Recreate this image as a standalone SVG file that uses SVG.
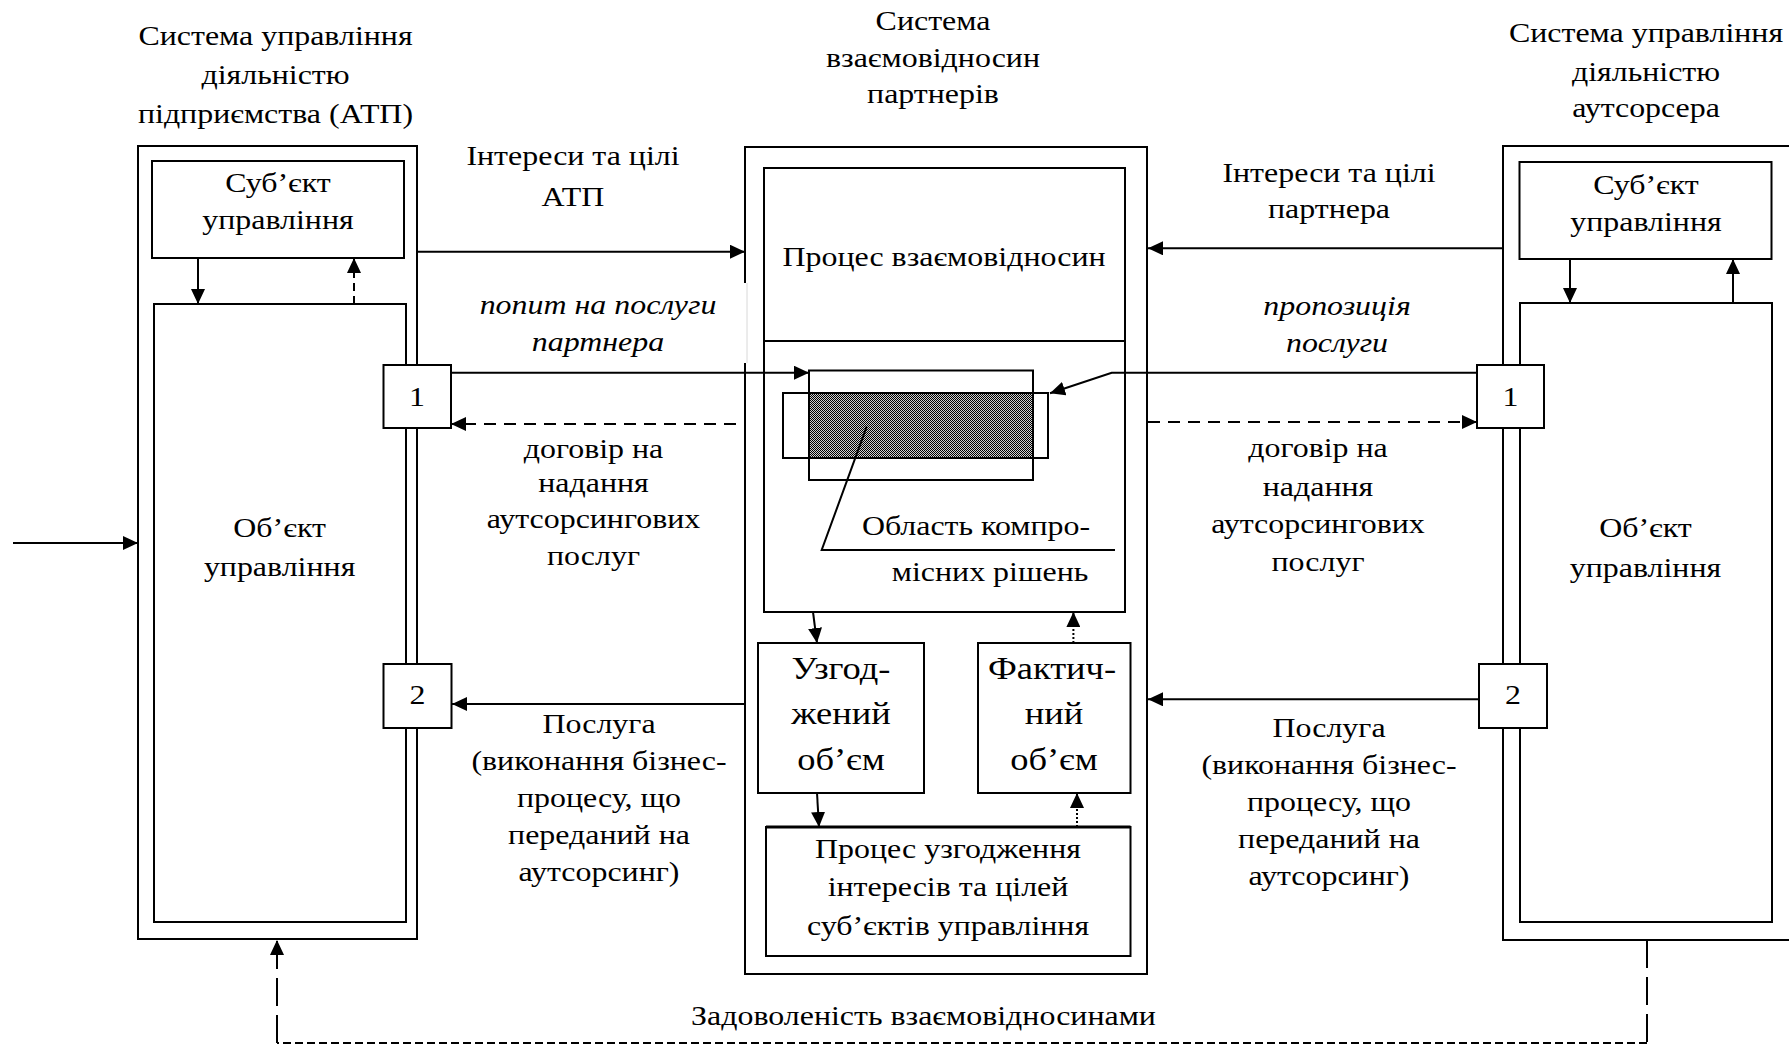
<svg xmlns="http://www.w3.org/2000/svg" width="1789" height="1046" viewBox="0 0 1789 1046">
<style>
.t{font-family:"Liberation Serif","Times New Roman",serif;font-size:28px;text-anchor:middle;fill:#000}
.i{font-style:italic}
.big{font-size:32px}
.b{fill:none;stroke:#000;stroke-width:2}
.w{fill:#fff;stroke:#000;stroke-width:2}
.c{fill:none;stroke:#000;stroke-width:2}
.d{stroke-dasharray:12 8}
.dl{stroke-dasharray:28 9}
.ds{stroke-dasharray:8 4}
.dt{stroke-dasharray:2 2}
</style>
<defs>
<marker id="a" viewBox="0 0 15 14" refX="15" refY="7" markerWidth="15" markerHeight="14" markerUnits="userSpaceOnUse" orient="auto"><path d="M0,0 L15,7 L0,14 z" fill="#000"/></marker>
<pattern id="chk" width="2" height="2" patternUnits="userSpaceOnUse"><rect width="2" height="2" fill="#cfcfcf"/><rect width="1" height="1" fill="#000"/><rect x="1" y="1" width="1" height="1" fill="#000"/></pattern>
</defs>
<rect width="1789" height="1046" fill="#fff"/>

<g id="left-system">
<rect class="b" x="138" y="146" width="279" height="793"/>
<text class="t" transform="matrix(1.14 0 0 1 275.5 0)"><tspan x="0" y="45">Система управління</tspan><tspan x="0" y="84">діяльністю</tspan><tspan x="0" y="123">підприємства (АТП)</tspan></text>
</g>
<g id="left-subject">
<rect class="w" x="152" y="161" width="252" height="97"/>
<text class="t" transform="matrix(1.14 0 0 1 278 0)"><tspan x="0" y="192">Суб’єкт</tspan><tspan x="0" y="229">управління</tspan></text>
</g>
<g id="left-object">
<rect class="b" x="154" y="304" width="252" height="618"/>
<text class="t" transform="matrix(1.14 0 0 1 279.6 0)"><tspan x="0" y="537">Об’єкт</tspan><tspan x="0" y="576">управління</tspan></text>
</g>
<g id="left-1">
<rect class="w" x="383.5" y="365" width="67.5" height="63"/>
<text class="t" transform="matrix(1.14 0 0 1 417 0)" y="406">1</text>
</g>
<g id="left-2">
<rect class="w" x="383.5" y="664" width="68" height="64"/>
<text class="t" transform="matrix(1.14 0 0 1 417.5 0)" y="704">2</text>
</g>

<g id="center-system">
<path class="b" d="M745,283 V147 H1147 V974 H745 V363"/>
<line x1="747" y1="283" x2="747" y2="363" stroke="#d8d8d8" stroke-width="1"/>
<text class="t" transform="matrix(1.14 0 0 1 933 0)"><tspan x="0" y="30">Система</tspan><tspan x="0" y="67">взаємовідносин</tspan><tspan x="0" y="103">партнерів</tspan></text>
</g>
<g id="relations-process">
<rect class="b" x="764" y="168" width="361" height="444"/>
<line class="b" x1="764" y1="341" x2="1125" y2="341"/>
<text class="t" transform="matrix(1.14 0 0 1 944 0)" y="266">Процес взаємовідносин</text>
</g>
<g id="compromise">
<rect x="809" y="393" width="224" height="65" fill="url(#chk)"/>
<rect class="b" x="809" y="370.5" width="224" height="109.5" stroke-width="1.8"/>
<rect class="b" x="783" y="393" width="265" height="65" stroke-width="1.8"/>
<path class="c" d="M866.7,426.7 L821.7,550 H1115" stroke-width="1.6"/>
<text class="t" transform="matrix(1.14 0 0 1 976 0)" y="535">Область компро-</text>
<text class="t" transform="matrix(1.14 0 0 1 990 0)" y="581">місних рішень</text>
</g>
<g id="agreed-volume">
<rect class="b" x="758" y="643" width="166" height="150"/>
<text class="t big" transform="matrix(1.14 0 0 1 841 0)"><tspan x="0" y="679">Узгод-</tspan><tspan x="0" y="724">жений</tspan><tspan x="0" y="770">об’єм</tspan></text>
</g>
<g id="actual-volume">
<rect class="b" x="978" y="643" width="152.5" height="150"/>
<text class="t big" transform="matrix(1.14 0 0 1 1052 0)" y="679">Фактич-</text>
<text class="t big" transform="matrix(1.14 0 0 1 1054 0)"><tspan x="0" y="724">ний</tspan><tspan x="0" y="770">об’єм</tspan></text>
</g>
<g id="coordination-process">
<rect class="b" x="766" y="827" width="364.5" height="129"/>
<line x1="766" y1="827" x2="1130.5" y2="827" stroke="#000" stroke-width="3"/>
<text class="t" transform="matrix(1.14 0 0 1 948 0)"><tspan x="0" y="858">Процес узгодження</tspan><tspan x="0" y="896">інтересів та цілей</tspan><tspan x="0" y="935">суб’єктів управління</tspan></text>
</g>

<g id="right-system">
<path class="b" d="M1800,146 H1503 V940 H1800"/>
<text class="t" transform="matrix(1.14 0 0 1 1646 0)"><tspan x="0" y="42">Система управління</tspan><tspan x="0" y="81">діяльністю</tspan><tspan x="0" y="117">аутсорсера</tspan></text>
</g>
<g id="right-subject">
<rect class="w" x="1519.5" y="162" width="252" height="97"/>
<text class="t" transform="matrix(1.14 0 0 1 1646 0)"><tspan x="0" y="194">Суб’єкт</tspan><tspan x="0" y="231">управління</tspan></text>
</g>
<g id="right-object">
<rect class="b" x="1520" y="303" width="252" height="619"/>
<text class="t" transform="matrix(1.14 0 0 1 1645.5 0)"><tspan x="0" y="537">Об’єкт</tspan><tspan x="0" y="577">управління</tspan></text>
</g>
<g id="right-1">
<rect class="w" x="1477" y="365" width="67" height="63"/>
<text class="t" transform="matrix(1.14 0 0 1 1510.5 0)" y="406">1</text>
</g>
<g id="right-2">
<rect class="w" x="1479" y="664" width="68" height="64"/>
<text class="t" transform="matrix(1.14 0 0 1 1513 0)" y="704">2</text>
</g>

<g id="connectors">
<line class="c" x1="198" y1="258" x2="198" y2="304" marker-end="url(#a)"/>
<line class="c" x1="354" y1="304" x2="354" y2="258" stroke-dasharray="8 5" marker-end="url(#a)"/>
<line class="c" x1="13" y1="543" x2="138" y2="543" marker-end="url(#a)"/>
<line class="c" x1="417" y1="251.7" x2="745" y2="251.7" marker-end="url(#a)"/>
<line class="c" x1="451" y1="372.7" x2="809" y2="372.7" marker-end="url(#a)"/>
<line class="c d" x1="736" y1="424" x2="451" y2="424" marker-end="url(#a)"/>
<line class="c" x1="745" y1="704" x2="452" y2="704" marker-end="url(#a)"/>
<line class="c" x1="1503" y1="248.3" x2="1148" y2="248.3" marker-end="url(#a)"/>
<path class="c" d="M1477,372.7 H1111.7 L1050,393.3" marker-end="url(#a)"/>
<line class="c d" x1="1148" y1="422" x2="1477" y2="422" marker-end="url(#a)"/>
<line class="c" x1="1479" y1="699.3" x2="1148" y2="699.3" marker-end="url(#a)"/>
<line class="c" x1="1570" y1="259" x2="1570" y2="303" marker-end="url(#a)"/>
<line class="c" x1="1733" y1="303" x2="1733" y2="259" marker-end="url(#a)"/>
<line class="c" x1="813" y1="612" x2="817" y2="643" marker-end="url(#a)"/>
<line class="c" x1="817" y1="793" x2="819" y2="827" marker-end="url(#a)"/>
<line class="c dt" x1="1073.4" y1="643" x2="1073.4" y2="612" marker-end="url(#a)"/>
<line class="c dt" x1="1077" y1="827" x2="1077" y2="793" marker-end="url(#a)"/>
<line class="c dl" x1="1647" y1="940" x2="1647" y2="1043"/>
<line class="c ds" x1="1647" y1="1043" x2="277" y2="1043"/>
<line class="c dl" x1="277" y1="1043" x2="277" y2="940" marker-end="url(#a)"/>
</g>

<g id="labels">
<text class="t" transform="matrix(1.14 0 0 1 573 0)"><tspan x="0" y="165">Інтереси та цілі</tspan><tspan x="0" y="206">АТП</tspan></text>
<text class="t i" transform="matrix(1.14 0 0 1 598 0)"><tspan x="0" y="314">попит на послуги</tspan><tspan x="0" y="351">партнера</tspan></text>
<text class="t" transform="matrix(1.14 0 0 1 593.5 0)"><tspan x="0" y="458">договір на</tspan><tspan x="0" y="492">надання</tspan><tspan x="0" y="528">аутсорсингових</tspan><tspan x="0" y="565">послуг</tspan></text>
<text class="t" transform="matrix(1.14 0 0 1 599 0)"><tspan x="0" y="733">Послуга</tspan><tspan x="0" y="770">(виконання бізнес-</tspan><tspan x="0" y="807">процесу, що</tspan><tspan x="0" y="844">переданий на</tspan><tspan x="0" y="881">аутсорсинг)</tspan></text>
<text class="t" transform="matrix(1.14 0 0 1 1329 0)"><tspan x="0" y="182">Інтереси та цілі</tspan><tspan x="0" y="218">партнера</tspan></text>
<text class="t i" transform="matrix(1.14 0 0 1 1337 0)"><tspan x="0" y="315">пропозиція</tspan><tspan x="0" y="352">послуги</tspan></text>
<text class="t" transform="matrix(1.14 0 0 1 1318 0)"><tspan x="0" y="457">договір на</tspan><tspan x="0" y="496">надання</tspan><tspan x="0" y="533">аутсорсингових</tspan><tspan x="0" y="571">послуг</tspan></text>
<text class="t" transform="matrix(1.14 0 0 1 1329 0)"><tspan x="0" y="737">Послуга</tspan><tspan x="0" y="774">(виконання бізнес-</tspan><tspan x="0" y="811">процесу, що</tspan><tspan x="0" y="848">переданий на</tspan><tspan x="0" y="885">аутсорсинг)</tspan></text>
<text class="t" transform="matrix(1.14 0 0 1 923.5 0)" y="1025">Задоволеність взаємовідносинами</text>
</g>
</svg>
